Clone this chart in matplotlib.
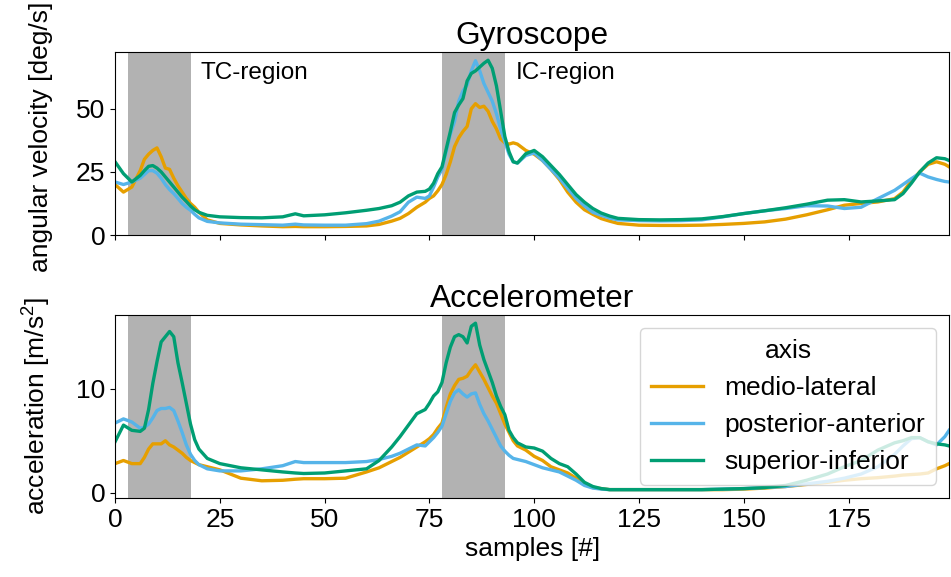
import numpy as np
import matplotlib.pyplot as plt

plt.rcParams['font.family'] = ['Liberation Sans', 'DejaVu Sans']
plt.rcParams['mathtext.fontset'] = 'custom'
plt.rcParams['mathtext.rm'] = 'Liberation Sans'
plt.rcParams['mathtext.it'] = 'Liberation Sans'
plt.rcParams['font.size'] = 19

samples = [0, 2, 4, 6, 7, 8, 9, 10, 11, 12,
           13, 14, 15, 16, 17, 18, 19, 20, 22, 25,
           30, 35, 40, 43, 45, 50, 55, 60, 63, 66,
           68, 70, 72, 74, 75, 76, 77, 78, 79, 80,
           81, 82, 83, 84, 85, 86, 87, 88, 89, 90,
           91, 92, 93, 94, 95, 96, 98, 100, 102, 104,
           106, 108, 110, 112, 114, 116, 118, 120, 125, 130,
           135, 140, 145, 150, 155, 160, 165, 170, 174, 178,
           182, 186, 188, 190, 192, 194, 196, 198, 199]

axis_names = ['medio-lateral', 'posterior-anterior', 'superior-inferior']
colors = ['#E69F00', '#56B4E9', '#009E73']

# gyroscope [deg/s]
gyr_ml = [20, 17, 19, 25.5, 30, 32, 33.5, 34.5, 31, 26.5,
          26, 22.5, 19.5, 17, 14.5, 12.5, 11, 9, 6, 4.6,
          4, 3.6, 3.3, 3.4, 3.3, 3.3, 3.4, 3.6, 4.2, 5.5,
          6.6, 8.5, 11, 13, 14.5, 15.5, 17.5, 20, 24, 29,
          35, 38.5, 41, 43, 50, 52, 50.5, 51, 49, 45,
          42, 38, 36.5, 36, 36.5, 36, 33.5, 32, 29.5, 26,
          22, 17, 13, 10, 8.2, 6.5, 5.5, 4.6, 3.9, 3.8,
          3.8, 3.9, 4.2, 4.6, 5.2, 6.3, 8, 10, 11.8, 12.5,
          13.1, 14.4, 17, 21.5, 25, 28, 29, 28, 27]
gyr_pa = [21, 20, 21, 22.5, 24, 25.5, 25.5, 24.5, 22.5, 20,
          18, 16.4, 14.5, 12.5, 11, 9.8, 8.2, 6.8, 5.4, 4.8,
          4.3, 4.1, 3.9, 4.3, 4, 3.9, 3.9, 4.5, 5.5, 7.5,
          9.2, 13, 15, 14.5, 15.5, 19, 23, 26, 33, 40,
          45, 53, 57, 59.5, 65, 69, 65, 60, 56.5, 53,
          48, 42, 37, 32, 29, 28.5, 31.5, 32.5, 29.5, 26,
          22.5, 18.5, 14.5, 11.5, 9, 7.8, 6.7, 6, 5.7, 5.6,
          5.7, 6, 7.2, 8.5, 9.6, 10.5, 11.6, 11.5, 10.5, 11,
          14.4, 17.7, 20, 22.3, 24.5, 23, 22, 21.2, 21]
gyr_si = [29, 24.3, 21, 23.6, 25.5, 27.2, 27.5, 26.5, 25, 23,
          21, 19, 17, 15, 13.3, 11.5, 10, 9, 7.8, 7.2,
          6.9, 6.8, 7.2, 8.4, 7.6, 8, 8.8, 9.8, 10.5, 11.6,
          13, 15.5, 17, 17.3, 18.2, 20.5, 24.3, 27, 34, 41,
          48.5, 51.5, 54, 61, 64, 65, 66.5, 68, 69.2, 66,
          59, 49, 39, 33, 29, 28.5, 32.2, 33.5, 31, 27.5,
          24, 20, 16, 13, 10.5, 8.7, 7.5, 6.6, 6.1, 6,
          6.1, 6.4, 7.3, 8.5, 9.6, 10.8, 12.2, 13.8, 14, 13.1,
          13.5, 14, 16.4, 20.5, 25, 28.5, 30.6, 30.2, 29.5]

# accelerometer [m/s^2]
acc_ml = [2.8, 3.1, 2.8, 2.8, 3.4, 4.2, 4.7, 4.7, 4.7, 5.0,
          4.6, 4.4, 4.1, 3.8, 3.4, 3.1, 2.9, 2.7, 2.5, 2.2,
          1.4, 1.15, 1.2, 1.3, 1.35, 1.35, 1.4, 2.0, 2.4, 3.0,
          3.4, 3.9, 4.4, 4.9, 5.2, 5.6, 6.2, 6.7, 8.2, 9.5,
          10.3, 10.9, 11.0, 11.2, 11.8, 12.3, 11.6, 10.9, 10.1, 9.3,
          8.6, 7.6, 6.6, 5.8, 5.0, 4.5, 4.1, 3.5, 3.1, 2.5,
          2.2, 1.9, 1.4, 0.8, 0.5, 0.4, 0.3, 0.3, 0.3, 0.3,
          0.3, 0.3, 0.3, 0.35, 0.45, 0.6, 0.8, 1.0, 1.2, 1.35,
          1.45, 1.6, 1.7, 1.75, 1.8, 1.9, 2.3, 2.6, 2.8]
acc_pa = [6.7, 7.1, 6.8, 6.2, 6.3, 6.6, 7.2, 7.9, 8.1, 8.1,
          8.2, 7.9, 6.9, 5.8, 4.6, 3.7, 3.1, 2.7, 2.3, 2.1,
          2.1, 2.3, 2.6, 3.0, 2.9, 2.9, 2.9, 3.0, 3.2, 3.5,
          3.8, 4.2, 4.6, 4.5, 4.9, 5.3, 5.8, 6.4, 7.6, 8.8,
          9.6, 9.9, 9.5, 9.2, 9.5, 9.6, 8.5, 7.6, 6.9, 6.1,
          5.3, 4.5, 4.0, 3.6, 3.3, 3.2, 3.0, 2.7, 2.4, 2.2,
          2.0, 1.6, 1.2, 0.7, 0.45, 0.35, 0.3, 0.3, 0.3, 0.3,
          0.3, 0.3, 0.35, 0.4, 0.5, 0.6, 0.85, 1.1, 1.4, 1.8,
          2.5, 3.7, 4.5, 5.2, 5.3, 4.9, 4.6, 5.4, 6.0]
acc_si = [4.9, 6.5, 6.0, 5.9, 6.2, 8.0, 10.5, 12.6, 14.5, 15.0,
          15.5, 15.0, 12.5, 10.6, 8.6, 6.6, 5.1, 4.2, 3.3, 2.8,
          2.4, 2.2, 2.0, 1.9, 1.85, 1.9, 2.1, 2.3, 3.1, 4.4,
          5.4, 6.5, 7.6, 8.0, 8.6, 9.3, 9.7, 10.6, 12.5, 14.0,
          15.0, 15.2, 15.0, 14.4, 16.0, 16.3, 14.2, 12.8, 11.7, 10.6,
          9.3, 8.3, 7.5, 6.0, 5.3, 4.8, 4.4, 4.3, 4.0, 3.3,
          2.8, 2.5, 1.8, 1.0, 0.6, 0.4, 0.3, 0.3, 0.3, 0.3,
          0.3, 0.3, 0.35, 0.4, 0.5, 0.7, 1.2, 1.8, 2.5, 3.1,
          4.1, 4.8, 5.0, 5.3, 5.3, 4.9, 4.7, 4.6, 4.5]

tc_region = (3, 18)
ic_region = (78, 93)

fig, (ax1, ax2) = plt.subplots(2, 1, sharex=True, figsize=(9.51, 5.77), dpi=100)
fig.subplots_adjust(left=0.121, right=0.998, top=0.910, bottom=0.137, hspace=0.436)

for ax, series in [(ax1, [gyr_ml, gyr_pa, gyr_si]), (ax2, [acc_ml, acc_pa, acc_si])]:
    for reg in (tc_region, ic_region):
        ax.axvspan(reg[0], reg[1], color='gray', alpha=0.6, lw=0)
    for vals, c, name in zip(series, colors, axis_names):
        ax.plot(samples, vals, color=c, lw=2.4, label=name)

ax1.set_title('Gyroscope', fontsize=22.8)
ax1.set_ylabel('angular velocity [deg/s]')
ax1.yaxis.set_label_coords(-0.074, 0.535)
ax1.set_yticks([0, 25, 50])
ax1.text(20.3, 64, 'TC-region', fontsize=17.5, va='center')
ax1.text(95.5, 64, 'IC-region', fontsize=17.5, va='center')

ax2.set_title('Accelerometer', fontsize=22.8)
ax2.set_ylabel('acceleration [m/s$^2$]')
ax2.yaxis.set_label_coords(-0.074, 0.5)
ax2.set_yticks([0, 10])
ax2.set_xlabel('samples [#]')
ax2.set_xticks([0, 25, 50, 75, 100, 125, 150, 175])
ax2.set_xlim(0, 199)
ax2.legend(title='axis', loc='upper right')

plt.savefig('out.png')
